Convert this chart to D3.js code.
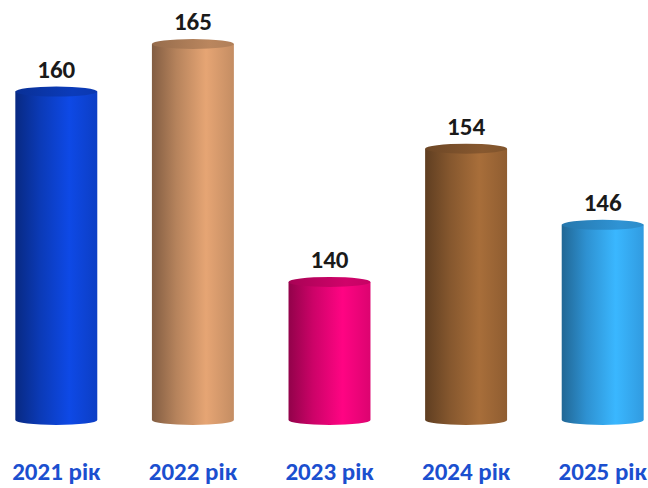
<!DOCTYPE html>
<html>
<head>
<meta charset="utf-8">
<script src="https://cdn.jsdelivr.net/npm/d3@7"></script>
<style>
  body { margin: 0; background: #ffffff; }
  svg { display: block; }
</style>
</head>
<body>
<svg id="chart" width="648" height="488"></svg>
<script>
// chart data
const years = ["2021 рік", "2022 рік", "2023 рік", "2024 рік", "2025 рік"];
const counts = [160, 165, 140, 154, 146];
const barColors = ["#0d44d6", "#d69a6c", "#f0047a", "#9c6636", "#36aaf5"];

const width = 648;
const height = 488;
const baseY = 420;
const ry = 5;
const fontStack = "Carlito, 'Noto Sans', 'Open Sans', sans-serif";

const svg = d3.select("#chart");

const xScale = d3.scaleBand()
                .domain(years)
                .range([-12, 671])
                .paddingInner(0.4)
                .paddingOuter(0.2);

const yScale = d3.scaleLinear()
                .domain([125.5, 165])
                .range([baseY, 44]);

const defs = svg.append("defs");

// side gradients: dark left edge, highlight around two thirds, a bit darker at right
barColors.forEach((c, i) => {
    const base = d3.color(c);
    const g = defs.append("linearGradient")
                .attr("id", "side" + i)
                .attr("x1", "0%").attr("x2", "100%")
                .attr("y1", "0%").attr("y2", "0%");
    g.append("stop").attr("offset", "0%").attr("stop-color", base.darker(1.4));
    g.append("stop").attr("offset", "30%").attr("stop-color", base.darker(0.45));
    g.append("stop").attr("offset", "66%").attr("stop-color", base.brighter(0.2));
    g.append("stop").attr("offset", "100%").attr("stop-color", base.darker(0.25));

    const t = defs.append("linearGradient")
                .attr("id", "top" + i)
                .attr("x1", "0%").attr("x2", "100%")
                .attr("y1", "0%").attr("y2", "0%");
    t.append("stop").attr("offset", "0%").attr("stop-color", base.darker(1.0));
    t.append("stop").attr("offset", "70%").attr("stop-color", base.darker(0.4));
    t.append("stop").attr("offset", "100%").attr("stop-color", base.darker(0.55));
});

const data = years.map((y, i) => ({ year: y, value: counts[i], idx: i }));

const bars = svg.selectAll("g.bar")
                .data(data)
                .enter()
                .append("g")
                .attr("class", "bar");

// cylinder body
bars.append("path")
    .attr("d", d => {
        const x0 = xScale(d.year);
        const w = xScale.bandwidth();
        const yt = yScale(d.value);
        return "M" + x0 + "," + yt +
               " L" + x0 + "," + baseY +
               " A" + (w / 2) + "," + ry + " 0 0 0 " + (x0 + w) + "," + baseY +
               " L" + (x0 + w) + "," + yt + " Z";
    })
    .attr("fill", d => "url(#side" + d.idx + ")");

// cylinder top
bars.append("ellipse")
    .attr("cx", d => xScale(d.year) + xScale.bandwidth() / 2)
    .attr("cy", d => yScale(d.value))
    .attr("rx", xScale.bandwidth() / 2)
    .attr("ry", ry)
    .attr("fill", d => "url(#top" + d.idx + ")");

// value labels
bars.append("text")
    .attr("x", d => xScale(d.year) + xScale.bandwidth() / 2)
    .attr("y", d => yScale(d.value) - 14)
    .attr("text-anchor", "middle")
    .attr("font-family", fontStack)
    .attr("font-weight", "bold")
    .attr("font-size", "25px")
    .attr("fill", "#1a1a1a")
    .text(d => d.value);

// category labels
const bottomAxis = d3.axisBottom(xScale).tickSize(0).tickPadding(0);
const axisG = svg.append("g")
                .attr("transform", "translate(0,480)")
                .call(bottomAxis);
axisG.select(".domain").remove();
axisG.selectAll("text")
    .attr("dy", "0")
    .attr("font-family", fontStack)
    .attr("font-weight", "bold")
    .attr("font-size", "25px")
    .attr("fill", "#1b4fcf");
</script>
</body>
</html>
